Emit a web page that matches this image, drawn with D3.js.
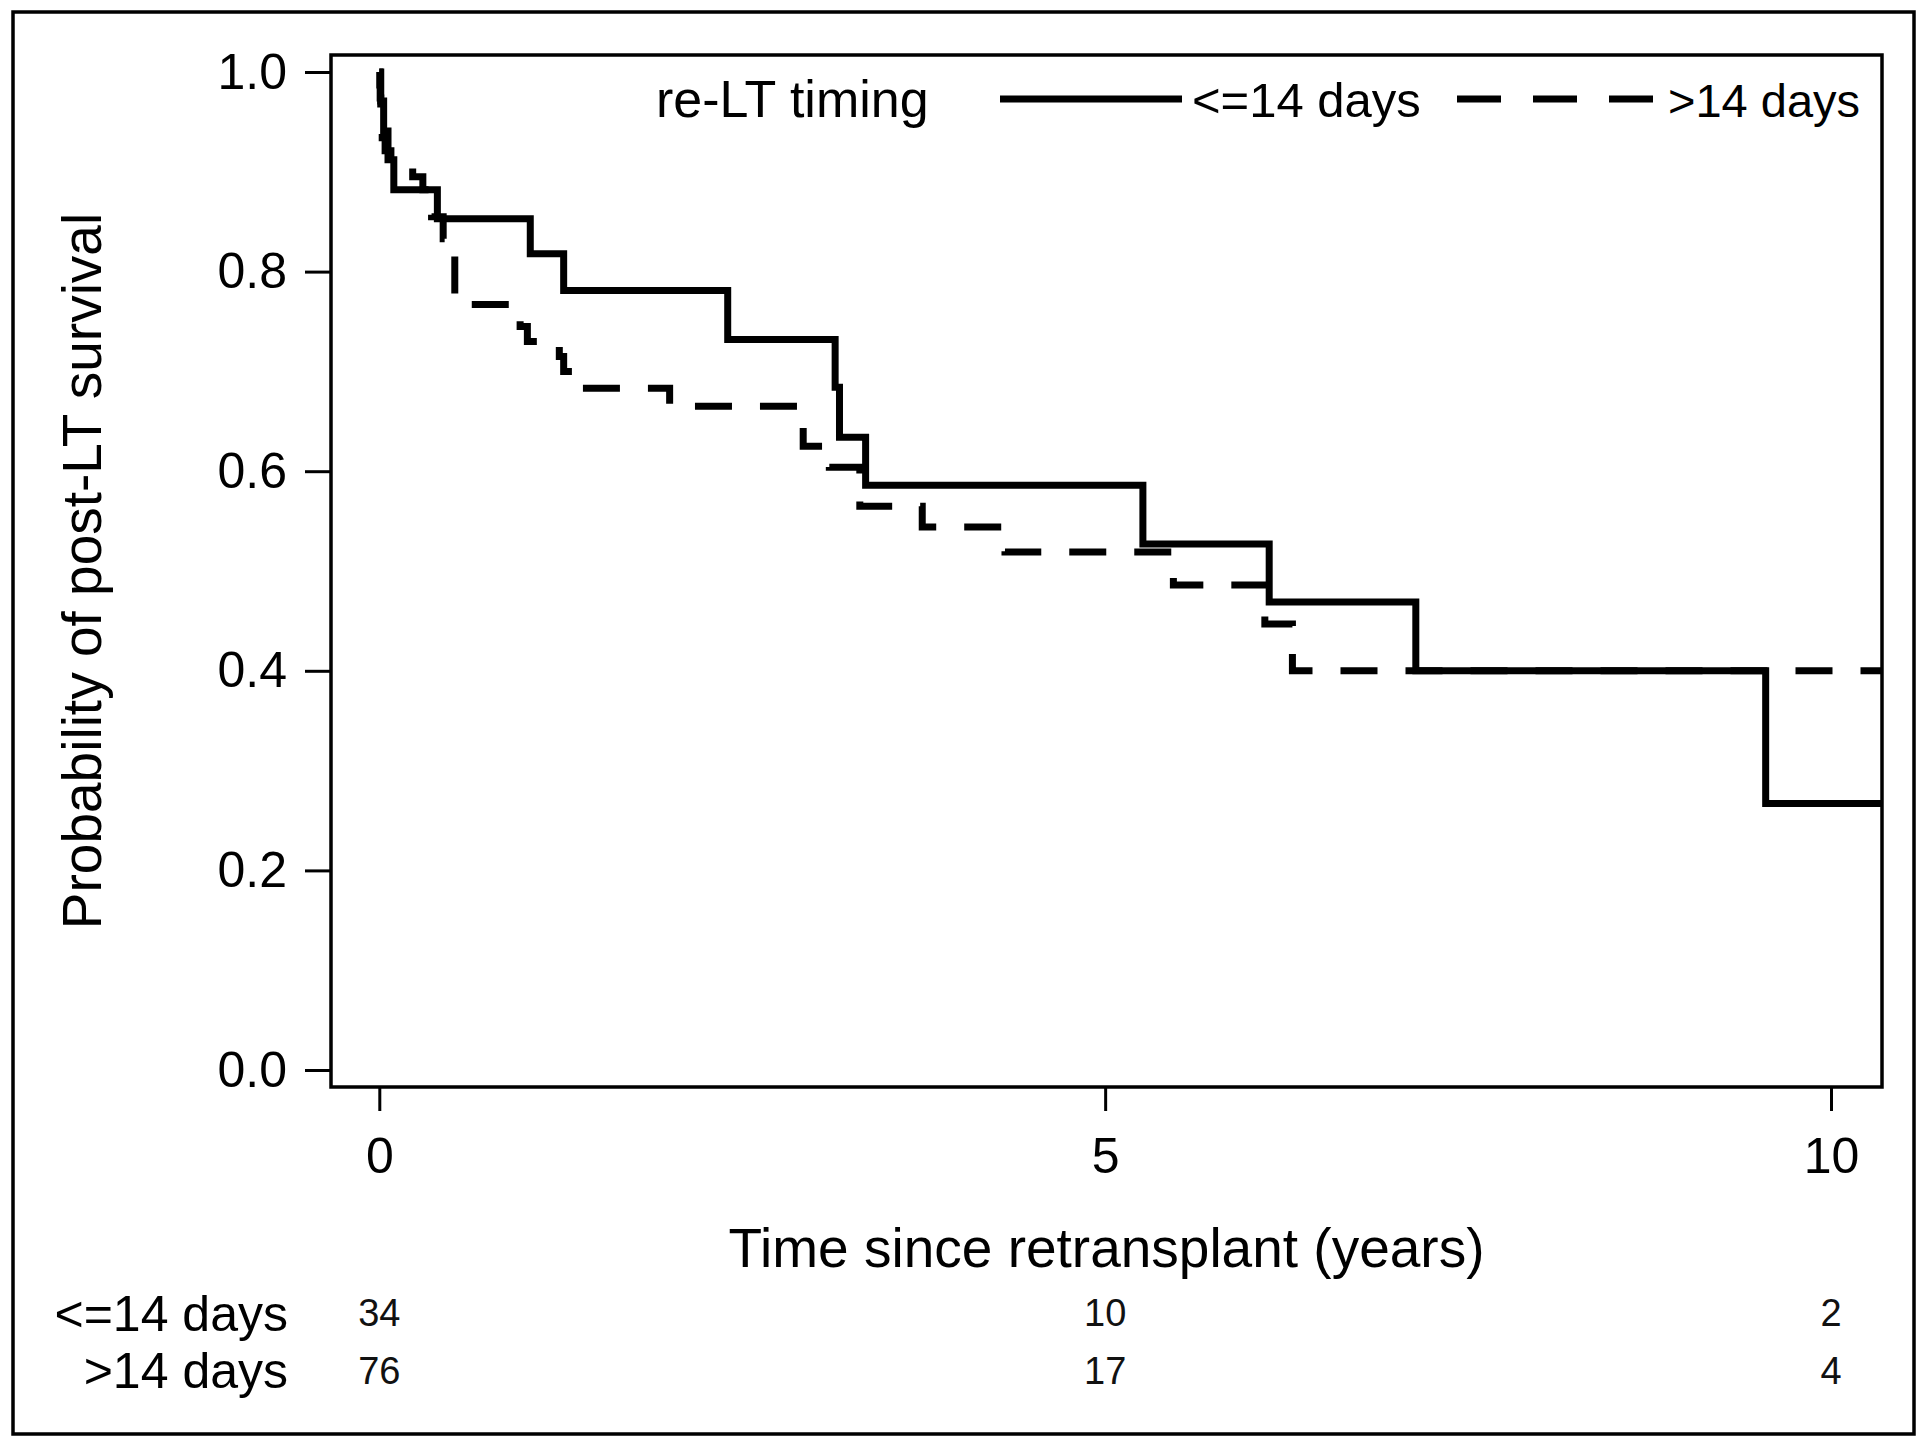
<!DOCTYPE html>
<html>
<head>
<meta charset="utf-8">
<script src="https://cdn.jsdelivr.net/npm/d3@7"></script>
<style>
  html, body { margin: 0; padding: 0; background: #fff; }
  svg { display: block; font-family: "Liberation Sans", Arial, sans-serif; }
</style>
</head>
<body>
<div id="chart"></div>
<script>
// Kaplan-Meier step curves (time in years, survival prob)
const le14Times = [0, 0.01, 0.03, 0.06, 0.10, 0.40, 1.04, 1.27, 2.40, 3.14, 3.17, 3.35, 5.26, 6.13, 7.14, 9.55, 10.4];
const le14Surv  = [1.0, 0.971, 0.941, 0.912, 0.882, 0.853, 0.818, 0.781, 0.732, 0.684, 0.634, 0.586, 0.527, 0.469, 0.40, 0.267, 0.267];

const gt14Times = [0, 0.003, 0.006, 0.01, 0.015, 0.02, 0.04, 0.08, 0.23, 0.30, 0.36, 0.44, 0.52, 0.97, 1.02, 1.24, 1.27, 1.40, 2.00, 2.92, 3.10, 3.31, 3.74, 4.31, 5.47, 6.10, 6.29, 10.4];
const gt14Surv  = [1.0, 0.987, 0.974, 0.961, 0.947, 0.934, 0.921, 0.908, 0.895, 0.882, 0.855, 0.833, 0.767, 0.745, 0.73, 0.715, 0.70, 0.683, 0.665, 0.625, 0.604, 0.565, 0.544, 0.519, 0.486, 0.447, 0.40, 0.40];

// number at risk table
const riskTimes = [0, 5, 10];
const riskLe14 = [34, 10, 2];
const riskGt14 = [76, 17, 4];

const groupLabels = ["<=14 days", ">14 days"];
const xTicks = [0, 5, 10];
const yTicks = [0, 0.2, 0.4, 0.6, 0.8, 1.0];

const W = 1920, H = 1437;
const frame = { left: 331, right: 1882, top: 55, bottom: 1087 };

const svg = d3.select("#chart").append("svg")
  .attr("width", W).attr("height", H)
  .attr("viewBox", `0 0 ${W} ${H}`);

// outer border
svg.append("rect")
  .attr("x", 13).attr("y", 12)
  .attr("width", 1901).attr("height", 1422)
  .attr("fill", "none").attr("stroke", "#000").attr("stroke-width", 3.5);

const x = d3.scaleLinear().domain([0, 10]).range([379.3, 1831]);
const y = d3.scaleLinear().domain([0, 1]).range([1070, 72]);

svg.append("clipPath").attr("id", "plotClip")
  .append("rect")
  .attr("x", frame.left).attr("y", frame.top)
  .attr("width", frame.right - frame.left).attr("height", frame.bottom - frame.top);

// axes
const yAxis = svg.append("g")
  .attr("transform", `translate(${frame.left},0)`)
  .call(d3.axisLeft(y).tickValues(yTicks).tickFormat(d3.format(".1f")).tickSize(26).tickPadding(18));

const xAxis = svg.append("g")
  .attr("transform", `translate(0,${frame.bottom})`)
  .call(d3.axisBottom(x).tickValues(xTicks).tickFormat(d3.format("d")).tickSize(24).tickPadding(26));

[yAxis, xAxis].forEach(g => {
  g.select(".domain").remove();
  g.selectAll(".tick line").attr("stroke", "#000").attr("stroke-width", 3);
  g.selectAll(".tick text")
    .attr("fill", "#000")
    .style("font-family", "Liberation Sans, Arial, sans-serif")
    .style("font-size", "50px");
});

// plot frame
svg.append("rect")
  .attr("x", frame.left).attr("y", frame.top)
  .attr("width", frame.right - frame.left).attr("height", frame.bottom - frame.top)
  .attr("fill", "none").attr("stroke", "#000").attr("stroke-width", 3.5);

// curves
const line = d3.line()
  .x(d => x(d[0]))
  .y(d => y(d[1]))
  .curve(d3.curveStepAfter);

const plot = svg.append("g").attr("clip-path", "url(#plotClip)");

plot.append("path")
  .datum(d3.zip(gt14Times, gt14Surv))
  .attr("d", line)
  .attr("fill", "none").attr("stroke", "#000")
  .attr("stroke-width", 7)
  .attr("stroke-dasharray", "37 28");

plot.append("path")
  .datum(d3.zip(le14Times, le14Surv))
  .attr("d", line)
  .attr("fill", "none").attr("stroke", "#000")
  .attr("stroke-width", 7);

// axis labels
svg.append("text")
  .attr("x", (frame.left + frame.right) / 2).attr("y", 1267)
  .attr("text-anchor", "middle")
  .style("font-size", "55px")
  .text("Time since retransplant (years)");

svg.append("text")
  .attr("transform", `translate(101, ${(frame.top + frame.bottom) / 2}) rotate(-90)`)
  .attr("text-anchor", "middle")
  .style("font-size", "55px")
  .text("Probability of post-LT survival");

// legend
const legend = svg.append("g");
legend.append("text")
  .attr("x", 656).attr("y", 117)
  .style("font-size", "52px")
  .text("re-LT timing");

legend.append("line")
  .attr("x1", 1000).attr("x2", 1182).attr("y1", 99).attr("y2", 99)
  .attr("stroke", "#000").attr("stroke-width", 7);
legend.append("text")
  .attr("x", 1192).attr("y", 117)
  .style("font-size", "49px")
  .text(groupLabels[0]);

legend.append("line")
  .attr("x1", 1457).attr("x2", 1653).attr("y1", 99).attr("y2", 99)
  .attr("stroke", "#000").attr("stroke-width", 7)
  .attr("stroke-dasharray", "44 32");
legend.append("text")
  .attr("x", 1668).attr("y", 117)
  .style("font-size", "47px")
  .text(groupLabels[1]);

// number at risk
const riskRows = [
  { label: groupLabels[0], values: riskLe14, labelY: 1331, numY: 1326 },
  { label: groupLabels[1], values: riskGt14, labelY: 1388, numY: 1384 }
];

riskRows.forEach(row => {
  svg.append("text")
    .attr("x", 288).attr("y", row.labelY)
    .attr("text-anchor", "end")
    .style("font-size", "50px")
    .text(row.label);

  svg.append("g").selectAll("text")
    .data(row.values)
    .join("text")
    .attr("x", (d, i) => x(riskTimes[i]))
    .attr("y", row.numY)
    .attr("text-anchor", "middle")
    .attr("fill", "#111")
    .style("font-size", "38px")
    .text(d => d);
});
</script>
</body>
</html>
